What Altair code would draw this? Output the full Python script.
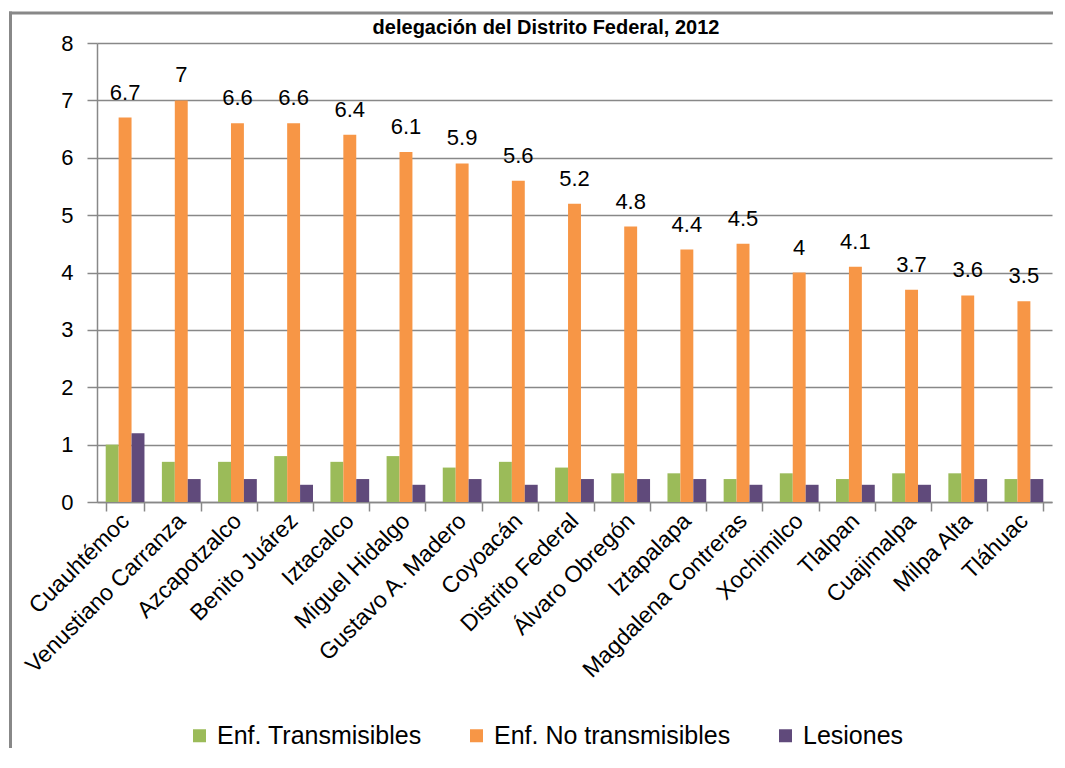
import altair as alt
import pandas as pd

categories = ["Cuauhtémoc", "Venustiano Carranza", "Azcapotzalco", "Benito Juárez",
              "Iztacalco", "Miguel Hidalgo", "Gustavo A. Madero", "Coyoacán",
              "Distrito Federal", "Álvaro Obregón", "Iztapalapa", "Magdalena Contreras",
              "Xochimilco", "Tlalpan", "Cuajimalpa", "Milpa Alta", "Tláhuac"]
transmisibles = [1.0, 0.7, 0.7, 0.8, 0.7, 0.8, 0.6, 0.7, 0.6, 0.5, 0.5, 0.4, 0.5, 0.4, 0.5, 0.5, 0.4]
no_transmisibles = [6.7, 7, 6.6, 6.6, 6.4, 6.1, 5.9, 5.6, 5.2, 4.8, 4.4, 4.5, 4, 4.1, 3.7, 3.6, 3.5]
lesiones = [1.2, 0.4, 0.4, 0.3, 0.4, 0.3, 0.4, 0.3, 0.4, 0.4, 0.4, 0.3, 0.3, 0.3, 0.3, 0.4, 0.4]
series = ["Enf. Transmisibles", "Enf. No transmisibles", "Lesiones"]
colors = ["#9BBB59", "#F79646", "#604A7B"]
title_text = "delegación del Distrito Federal, 2012"
y_ticks = [0, 1, 2, 3, 4, 5, 6, 7, 8]

rows = []
for s, vals in zip(series, [transmisibles, no_transmisibles, lesiones]):
    for c, v in zip(categories, vals):
        rows.append({"cat": c, "serie": s, "valor": v, "etiqueta": f"{v:g}"})
df = pd.DataFrame(rows)

FONT = "Liberation Sans"

x_enc = alt.X("cat:N", sort=categories,
              scale=alt.Scale(paddingInner=0.31, paddingOuter=0.155),
              axis=alt.Axis(title=None, labelAngle=-45, labelAlign="right",
                            labelBaseline="middle", labelFontSize=23, labelFont=FONT,
                            labelColor="black", tickBand="extent", tickSize=9,
                            tickColor="#888888", tickWidth=1.5, domainColor="#888888",
                            domainWidth=1.5, labelPadding=6, labelLimit=0,
                            labelOverlap=False, grid=False))
y_enc = alt.Y("valor:Q", scale=alt.Scale(domain=[0, 8], nice=False),
              axis=alt.Axis(title=None, values=y_ticks, labelFontSize=22, labelFont=FONT,
                            labelColor="black", tickSize=10, tickColor="#888888",
                            tickWidth=1.5, labelPadding=14, gridColor="#888888",
                            gridWidth=1.5, domainColor="#888888", domainWidth=1.5))
xoff = alt.XOffset("serie:N", sort=series, scale=alt.Scale(paddingInner=0, paddingOuter=0))

base = alt.Chart(df)

bars = base.mark_bar().encode(
    x=x_enc, y=y_enc, xOffset=xoff,
    color=alt.Color("serie:N", sort=series,
                    scale=alt.Scale(domain=series, range=colors),
                    legend=alt.Legend(title=None, orient="none", legendX=90, legendY=680,
                                      direction="horizontal", symbolType="square",
                                      symbolSize=169, symbolStrokeWidth=0,
                                      labelFontSize=25, labelFont=FONT, labelColor="black",
                                      labelLimit=0, columnPadding=42, labelOffset=5)))

labels = base.transform_filter(alt.datum.serie == "Enf. No transmisibles").mark_text(
    font=FONT, fontSize=22, color="black", baseline="alphabetic", dy=-18
).encode(x=x_enc, y=y_enc, xOffset=xoff, text="etiqueta:N")

one = alt.Chart(pd.DataFrame({"t": [title_text]}))
border_left = one.mark_rect(color="#888888", strokeWidth=0).encode(
    x=alt.value(-88), x2=alt.value(-85), y=alt.value(-31.5), y2=alt.value(800))
border_top = one.mark_rect(color="#888888", strokeWidth=0).encode(
    x=alt.value(-88), x2=alt.value(1200), y=alt.value(-31.5), y2=alt.value(-28.5))
cover = one.mark_rect(color="white", strokeWidth=0).encode(
    x=alt.value(957), x2=alt.value(1200), y=alt.value(-28.5), y2=alt.value(800))
title = one.mark_text(font=FONT, fontSize=20, fontWeight="bold", color="black",
                      baseline="alphabetic", align="center").encode(
    x=alt.value(449), y=alt.value(-9), text="t:N")

chart = alt.layer(border_left, border_top, title, bars, labels, cover).properties(
    width=955, height=459,
    autosize=alt.AutoSizeParams(type="none"),
    padding={"left": 89, "top": 35, "right": 1, "bottom": 246},
    background="white",
).configure_view(stroke=None)

chart.save("out.html", embed_options={"renderer": "svg", "actions": False})
